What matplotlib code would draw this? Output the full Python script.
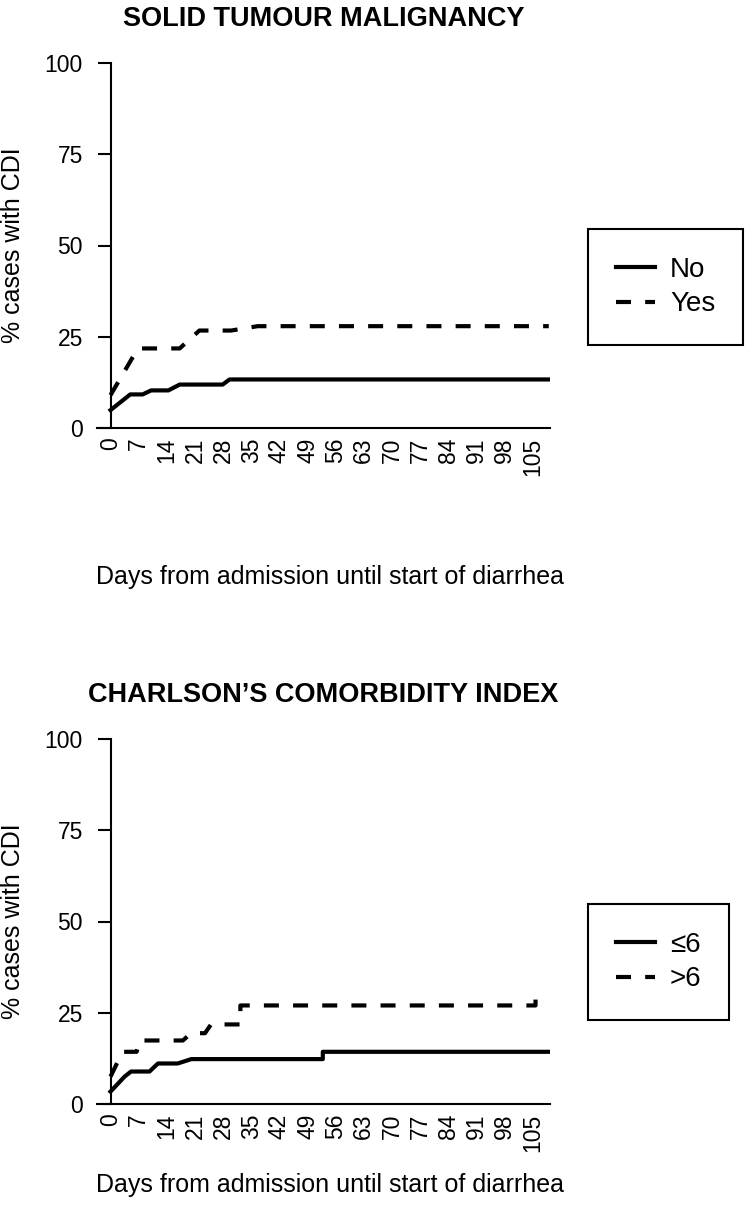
import matplotlib
matplotlib.use('Agg')
import matplotlib.pyplot as plt

plt.rcParams['font.family'] = ['Liberation Sans', 'DejaVu Sans']

# days from admission / % cases with CDI
no_days = [0, 4.9, 8.0, 10.1, 14.4, 17.2, 27.9, 29.6, 109.3]
no_vals = [4.9, 9.2, 9.2, 10.3, 10.3, 11.9, 11.9, 13.3, 13.3]
yes_days = [0, 6.8, 17.2, 22.1, 30.0, 36.6, 109.0]
yes_vals = [9.0, 21.8, 21.8, 26.7, 26.7, 27.9, 27.9]

le6_days = [0, 3.5, 5.1, 9.7, 11.8, 16.7, 20.1, 52.8, 52.8, 109.3]
le6_vals = [3.4, 7.5, 8.9, 8.9, 11.1, 11.1, 12.3, 12.3, 14.3, 14.3]
gt6_days = [0, 3.0, 6.5, 7.2, 18.0, 20.0, 23.5, 25.0, 32.3, 32.3, 105.7, 105.7]
gt6_vals = [7.5, 14.3, 14.3, 17.4, 17.4, 19.4, 19.4, 21.8, 21.8, 27.0, 27.0, 29.6]

xticks = list(range(0, 106, 7))
yticks = [0, 25, 50, 75, 100]

W, H = 746, 1211
fig = plt.figure(figsize=(W / 100, H / 100), dpi=100)


def px_axes(left, top, right, bottom):
    return fig.add_axes([left / W, 1 - bottom / H, (right - left) / W, (bottom - top) / H])


def style(ax, title, xlabel_y):
    ax.set_xlim(-3.36, 109.3)
    ax.set_ylim(0, 100)
    ax.spines['top'].set_visible(False)
    ax.spines['right'].set_visible(False)
    ax.spines['left'].set_position(('data', 0))
    ax.spines['left'].set_linewidth(1.5)
    ax.spines['bottom'].set_linewidth(1.5)
    ax.set_xticks(xticks)
    ax.set_xticklabels([str(t) for t in xticks], rotation=90, fontsize=16.5)
    ax.set_yticks(yticks)
    ax.set_yticklabels([str(t) for t in yticks], fontsize=16.5)
    ax.tick_params(axis='x', length=0, pad=7)
    ax.tick_params(axis='y', length=9.4, width=1.5, pad=10.5)
    ax.set_ylabel('% cases with CDI', fontsize=18)
    ax.yaxis.set_label_coords(-0.16, 0.5)
    ax.set_xlabel('Days from admission until start of diarrhea', fontsize=18)
    ax.xaxis.set_label_coords(0.515, xlabel_y)
    ax.set_title(title, fontsize=19.5, fontweight='bold', pad=27)


ax1 = px_axes(97, 63, 550, 428)
ax1.plot(no_days, no_vals, color='black', lw=3, label='No')
ax1.plot(yes_days, yes_vals, color='black', lw=3, dashes=(3.6, 3.4), label='Yes')
style(ax1, 'SOLID TUMOUR MALIGNANCY', -0.375)

ax2 = px_axes(97, 739, 550, 1104)
ax2.plot(le6_days, le6_vals, color='black', lw=3, label='≤6')
ax2.plot(gt6_days, gt6_vals, color='black', lw=3, dashes=(3.6, 3.4), label='>6')
style(ax2, 'CHARLSON’S COMORBIDITY INDEX', -0.19)

for ax, bottom in [(ax1, 345), (ax2, 1020)]:
    leg = ax.legend(loc='lower left', bbox_to_anchor=(588 / W, 1 - bottom / H),
                    bbox_transform=fig.transFigure, fontsize=20, fancybox=False,
                    framealpha=1, edgecolor='black', borderpad=1.0,
                    handlelength=1.4, handletextpad=0.55, labelspacing=0.3,
                    borderaxespad=0)
    leg.get_frame().set_linewidth(1.5)

fig.savefig('out.png', dpi=100)
